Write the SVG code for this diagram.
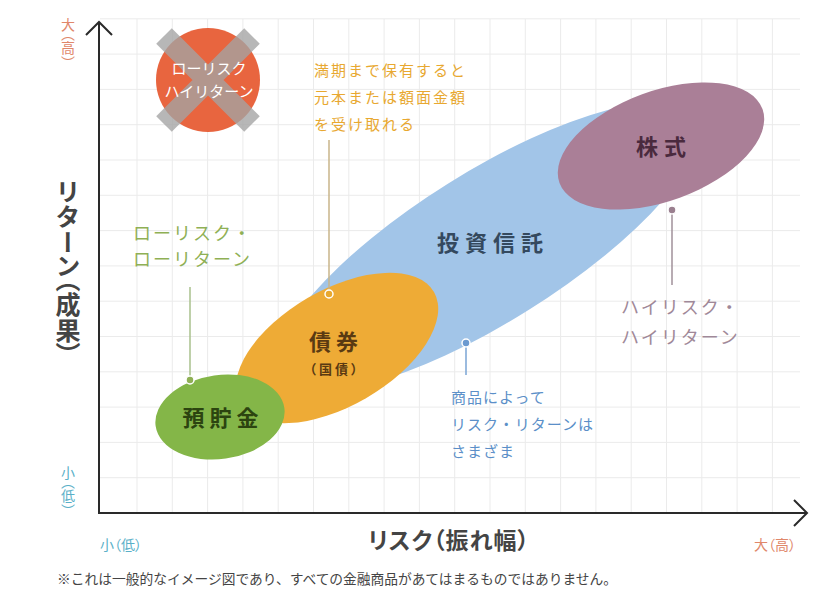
<svg xmlns="http://www.w3.org/2000/svg" width="840" height="611" viewBox="0 0 840 611">
<defs>
<style>
text{font-family:"Noto Sans CJK JP","Noto Sans",sans-serif;}
.grid{stroke:#ebebeb;stroke-width:1;fill:none;}
.axis{stroke:#2a2a2a;stroke-width:2;fill:none;}
.vt{writing-mode:vertical-rl;font-feature-settings:"vpal";}
.pp{font-feature-settings:"palt";}
.big{font-weight:700;font-size:22px;}
.lbl{font-weight:700;fill:#444;}
.dot{stroke:#fff;stroke-width:1.5;}
</style>
</defs>
<rect width="840" height="611" fill="#fff"/>
<g id="grid">
<path class="grid" d="M137 19V513M172.3 19V513M207.6 19V513M242.9 19V513M278.2 19V513M313.5 19V513M348.8 19V513M384.1 19V513M419.4 19V513M454.7 19V513M490 19V513M525.3 19V513M560.6 19V513M595.9 19V513M631.2 19V513M666.5 19V513M701.8 19V513M737.1 19V513M772.4 19V513"/>
<path class="grid" d="M100 477.7H800M100 442.4H800M100 407.1H800M100 371.8H800M100 336.5H800M100 301.2H800M100 265.9H800M100 230.6H800M100 195.3H800M100 160H800M100 124.7H800M100 89.4H800M100 54.1H800M100 18.8H800"/>
</g>
<g id="axes">
<path class="axis" d="M99 22V513H807"/>
<path class="axis" d="M86 35L99 22L112 35"/>
<path class="axis" d="M794 500L807 513L794 526"/>
<text class="vt" x="68" y="18" font-size="14" fill="#e0876a" letter-spacing="1">大（高）</text>
<text class="vt" x="68" y="466" font-size="14" fill="#5ab0c8" letter-spacing="1">小（低）</text>
<text class="pp" x="100" y="550" font-size="14" fill="#5ab0c8">小（低）</text>
<text class="pp" x="754" y="550" font-size="14" fill="#e0876a">大（高）</text>
<text class="vt lbl" x="68" y="180" font-size="25" letter-spacing="1">リターン（成果）</text>
<text class="lbl pp" x="368" y="549" font-size="23" letter-spacing="1">リスク（振れ幅）</text>
</g>
<g id="ng">
<circle cx="208" cy="80" r="52" fill="#e8653f"/>
<path d="M164 36L252 124M252 36L164 124" stroke="#a4a4a4" stroke-width="22" opacity="0.78"/>
<text x="209" y="74" font-size="15" fill="#fff" text-anchor="middle">ローリスク</text>
<text x="209" y="97" font-size="15" fill="#fff" text-anchor="middle">ハイリターン</text>
</g>
<g id="toushin">
<ellipse cx="488" cy="247" rx="245" ry="75" transform="rotate(-32 488 247)" fill="#a2c5e8"/>
<text class="big" x="493" y="251" fill="#34495e" text-anchor="middle" letter-spacing="6">投資信託</text>
</g>
<g id="saiken">
<ellipse cx="337" cy="348" rx="112" ry="58" transform="rotate(-30 337 348)" fill="#eeab36"/>
<text class="big" x="336" y="350" fill="#5a3a12" text-anchor="middle" letter-spacing="5">債券</text>
<text class="pp" x="335" y="374" font-size="13" font-weight="700" fill="#5a3a12" text-anchor="middle" letter-spacing="3">（国債）</text>
</g>
<g id="yochokin">
<ellipse cx="220" cy="417" rx="65" ry="42" transform="rotate(-8 220 417)" fill="#84b648"/>
<text class="big" x="223" y="426" fill="#2c4410" text-anchor="middle" letter-spacing="5">預貯金</text>
</g>
<g id="kabushiki">
<ellipse cx="661" cy="146" rx="108" ry="55" transform="rotate(-20 661 146)" fill="#aa7f97"/>
<text class="big" x="664" y="155" fill="#4a2a3e" text-anchor="middle" letter-spacing="6">株式</text>
</g>
<g id="connectors">
<path d="M190 287V380" stroke="#a9c08c" stroke-width="1.5"/>
<circle class="dot" cx="190" cy="380" r="4" fill="#8fb055"/>
<path d="M329 140V294" stroke="#c8b48a" stroke-width="1.5"/>
<circle class="dot" cx="329" cy="294" r="4" fill="#e8a830"/>
<path d="M466 343V375" stroke="#7aa5d5" stroke-width="1.5"/>
<circle class="dot" cx="466" cy="343" r="4" fill="#6c9ad0"/>
<path d="M672 210V285" stroke="#a0909a" stroke-width="1.5"/>
<circle class="dot" cx="672" cy="210" r="4" fill="#9a7f8f"/>
</g>
<g id="note-low">
<text x="133" y="240" font-size="18" fill="#8fb055" letter-spacing="2">ローリスク・</text>
<text x="133" y="266" font-size="18" fill="#8fb055" letter-spacing="2">ローリターン</text>
</g>
<g id="note-bond">
<text x="314" y="76" font-size="15" fill="#e8a830" letter-spacing="2">満期まで保有すると</text>
<text x="314" y="103" font-size="15" fill="#e8a830" letter-spacing="2">元本または額面金額</text>
<text x="314" y="130" font-size="15" fill="#e8a830" letter-spacing="2">を受け取れる</text>
</g>
<g id="note-fund">
<text x="451" y="403" font-size="15" fill="#5b8fc8" letter-spacing="1">商品によって</text>
<text x="451" y="430" font-size="15" fill="#5b8fc8" letter-spacing="1">リスク・リターンは</text>
<text x="451" y="457" font-size="15" fill="#5b8fc8" letter-spacing="1">さまざま</text>
</g>
<g id="note-high">
<text x="621" y="314" font-size="18" fill="#a08898" letter-spacing="2">ハイリスク・</text>
<text x="621" y="344" font-size="18" fill="#a08898" letter-spacing="2">ハイリターン</text>
</g>
<text x="57" y="584" font-size="13.5" fill="#444" textLength="560" lengthAdjust="spacingAndGlyphs">※これは一般的なイメージ図であり、すべての金融商品があてはまるものではありません。</text>
</svg>
